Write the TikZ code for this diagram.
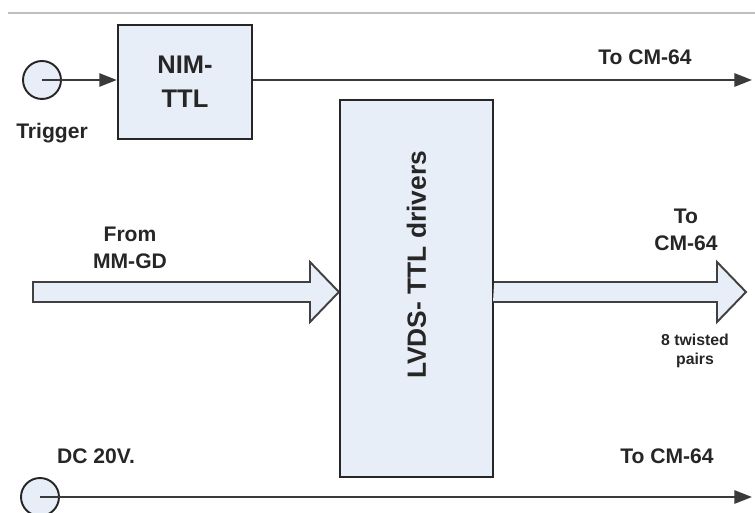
\documentclass[tikz,border=0pt]{standalone}
\usepackage{fontspec}
\setmainfont{Liberation Sans}
\usetikzlibrary{arrows.meta}

\definecolor{boxfill}{HTML}{E8EEF7}
\definecolor{wire}{HTML}{3A3A3A}

\tikzset{
	block/.style={draw=black!85, line width=1.3pt, fill=boxfill, inner sep=0pt},
	port/.style={circle, draw=black!85, line width=1.1pt, fill=boxfill, minimum size=0.76cm, inner sep=0pt},
	signal/.style={draw=wire, line width=1.2pt, -{Triangle[length=10pt,width=7.5pt]}},
	bus/.style={draw=black!75, line width=1.1pt, fill=boxfill, line join=miter},
	tag/.style={font=\bfseries\fontsize{12}{15}\selectfont, align=center, text=black!85}
}

\begin{document}
\begin{tikzpicture}
		\useasboundingbox (0,0) rectangle (15.1,-10.26);
		\draw[black!25, line width=0.7pt] (0.16,-0.26) -- (15.1,-0.26);

		% trigger path
		\node[port] (trig) at (0.84,-1.6) {};
		\node[tag] (trigtxt) at (1.04,-2.66) {Trigger};
		\node[block, minimum width=2.68cm, minimum height=2.28cm,
			font=\bfseries\fontsize{14.5}{19.5}\selectfont, align=center, text=black!85] (nim) at (3.7,-1.64) {NIM-\\TTL};
		\coordinate (out1) at (15.04,-1.6);
		\draw[signal] (trig.center) -- (nim.west |- trig);
		\draw[signal] (nim.east |- out1) -- (out1);
		\node[tag] (cm1) at (12.9,-1.14) {To CM-64};

		% driver block
		\node[block, minimum width=3.06cm, minimum height=7.54cm] (lvds) at (8.33,-5.77) {};
		\node[rotate=90, font=\bfseries\fontsize{15}{18}\selectfont, text=black!85] (lvdstxt) at (8.33,-5.3) {LVDS- TTL drivers};

		% data buses
		\coordinate (busin) at (0.66,-5.84);
		\coordinate (busout) at (14.92,-5.84);
		\draw[bus] (busin) ++(0,0.2) -- (6.2,-5.64) -- (6.2,-5.24) -- (lvds.west |- busin)
			-- (6.2,-6.44) -- (6.2,-6.04) -- (0.66,-6.04) -- cycle;
		\draw[bus] (lvds.east |- busout) ++(0,0.2) -- (14.34,-5.64) -- (14.34,-5.24) -- (busout)
			-- (14.34,-6.44) -- (14.34,-6.04) -- (9.86,-6.04);
		\node[tag] (from) at (2.6,-4.96) {From\\MM-GD};
		\node[tag] (cm2) at (13.72,-4.6) {To\\CM-64};
		\node[tag, font=\bfseries\fontsize{9}{11}\selectfont] (pairs) at (13.9,-7.02) {8 twisted\\pairs};

		% supply
		\node[port] (dc) at (0.8,-9.94) {};
		\coordinate (out3) at (15.04,-9.94);
		\draw[signal] (dc.center) -- (out3);
		\node[tag] (dctxt) at (1.92,-9.12) {DC 20V.};
		\node[tag] (cm3) at (13.34,-9.12) {To CM-64};
	\end{tikzpicture}
\end{document}
